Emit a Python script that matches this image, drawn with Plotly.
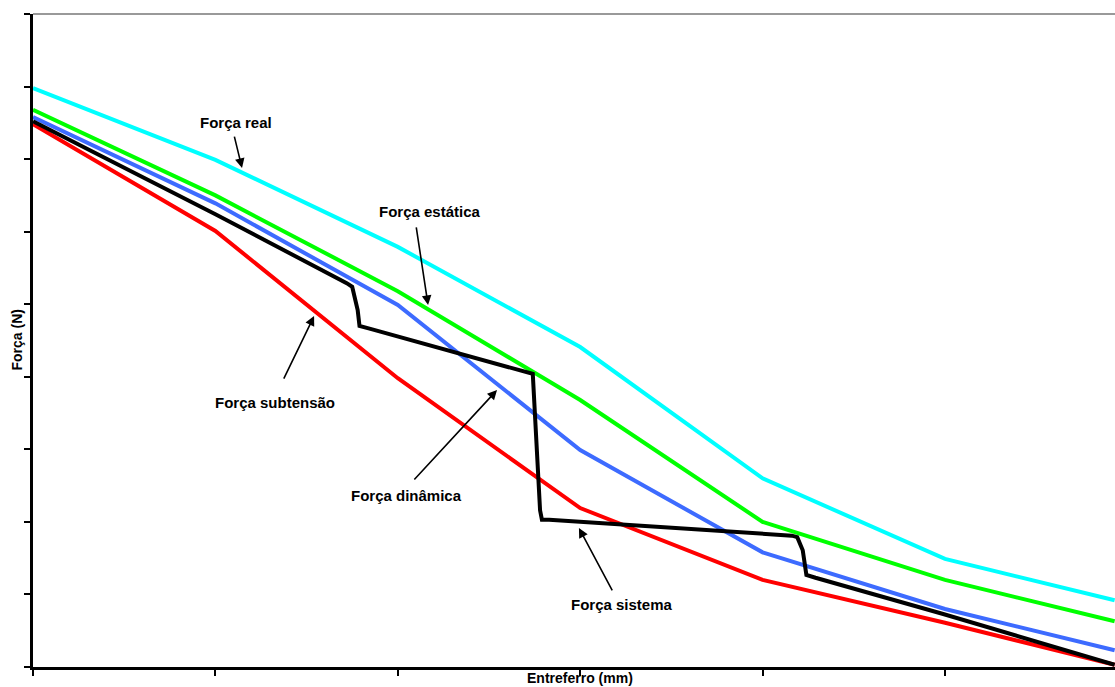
import plotly.graph_objects as go

# Entreferro (mm) positions of the curve vertices
x_pts = [0, 1, 2, 3, 4, 5, 5.93]

forca_real = [7.98, 6.99, 5.79, 4.41, 2.60, 1.49, 0.92]
forca_estatica = [7.68, 6.50, 5.18, 3.68, 2.00, 1.20, 0.63]
forca_dinamica = [7.58, 6.39, 4.99, 2.99, 1.58, 0.80, 0.23]
forca_subtensao = [7.48, 6.01, 3.98, 2.19, 1.20, 0.61, 0.03]

# Força sistema: switching curve with step transitions
x_sistema = [0, 1, 1.72, 1.75, 1.78, 1.79, 1.85, 2.71, 2.74, 2.78, 2.79, 2.83,
             3.66, 4.16, 4.19, 4.22, 4.24, 4.29, 4.99, 5.93]
forca_sistema = [7.52, 6.24, 5.29, 5.24, 4.92, 4.70, 4.66, 4.07, 4.04, 2.16, 2.03, 2.03,
                 1.90, 1.81, 1.79, 1.61, 1.27, 1.23, 0.73, 0.03]

x_ticks = [0, 1, 2, 3, 4, 5]
y_ticks = [0, 1, 2, 3, 4, 5, 6, 7, 8, 9]

FONT = "Liberation Sans, Arial, sans-serif"

fig = go.Figure()
series = [
    ("Força real", x_pts, forca_real, "#00FFFF"),
    ("Força estática", x_pts, forca_estatica, "#00FF00"),
    ("Força dinâmica", x_pts, forca_dinamica, "#3D6BFF"),
    ("Força subtensão", x_pts, forca_subtensao, "#FF0000"),
    ("Força sistema", x_sistema, forca_sistema, "#000000"),
]
for name, xs, ys, color in series:
    fig.add_trace(go.Scatter(x=xs, y=ys, mode="lines", name=name,
                             line=dict(color=color, width=4), showlegend=False))

# Callout labels: (text, arrow head, arrow tail, label centre)
callouts = [
    ("Força real", (1.146, 6.877), (1.102, 7.33), (1.113, 7.51)),
    ("Força estática", (2.166, 4.989), (2.10, 6.08), (2.177, 6.28)),
    ("Força subtensão", (1.541, 4.837), (1.371, 3.955), (1.327, 3.652)),
    ("Força dinâmica", (2.544, 3.817), (2.083, 2.563), (2.045, 2.37)),
    ("Força sistema", (2.993, 1.916), (3.18, 1.034), (3.229, 0.868)),
]
annotations = []
for text, head, tail, label in callouts:
    annotations.append(dict(
        x=head[0], y=head[1], ax=tail[0], ay=tail[1], axref="x", ayref="y",
        xref="x", yref="y", text="", showarrow=True, arrowhead=2,
        arrowsize=1.2, arrowwidth=1.6, arrowcolor="black", standoff=0, startstandoff=0))
    annotations.append(dict(
        x=label[0], y=label[1], xref="x", yref="y", text=f"<b>{text}</b>",
        showarrow=False, font=dict(family=FONT, size=15, color="black"),
        xanchor="center", yanchor="middle"))

annotations.append(dict(
    x=3.0, y=-0.0165, xref="x", yref="paper", text="<b>Entreferro (mm)</b>",
    showarrow=False, font=dict(family=FONT, size=14, color="black"),
    xanchor="center", yanchor="middle"))
annotations.append(dict(
    x=-0.0157, y=0.5, xref="paper", yref="paper", text="<b>Força (N)</b>",
    textangle=-90, showarrow=False, font=dict(family=FONT, size=14, color="black"),
    xanchor="center", yanchor="middle"))

fig.update_layout(
    width=1115, height=687,
    margin=dict(l=33, r=0, t=14, b=20),
    paper_bgcolor="white", plot_bgcolor="white",
    annotations=annotations,
    shapes=[dict(type="line", xref="paper", yref="paper", x0=0, x1=1, y0=1, y1=1,
                 line=dict(color="#999999", width=2), layer="above")],
    xaxis=dict(range=[0, 5.932], tickvals=x_ticks, showticklabels=False,
               showgrid=False, zeroline=False, showline=True, linecolor="black",
               linewidth=3, ticks="outside", ticklen=6, tickwidth=2, tickcolor="black"),
    yaxis=dict(range=[0, 9], tickvals=y_ticks, showticklabels=False,
               showgrid=False, zeroline=False, showline=True, linecolor="black",
               linewidth=3, ticks="outside", ticklen=6, tickwidth=2, tickcolor="black"),
)

fig.write_html("out.html")
